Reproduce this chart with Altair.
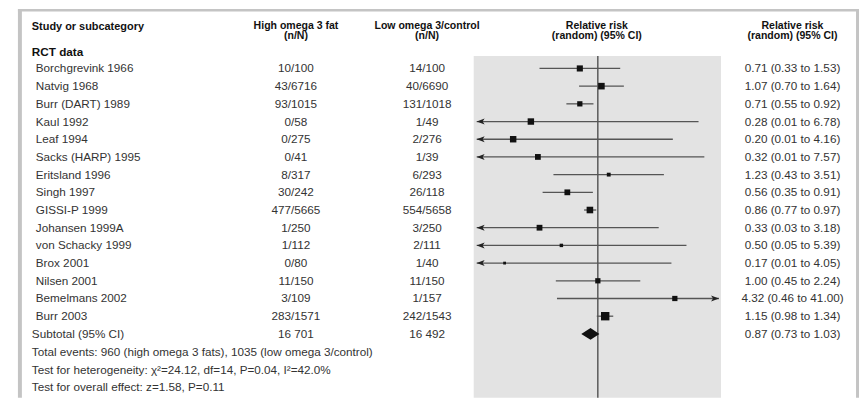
import altair as alt
import pandas as pd

# ---------------- data ----------------
studies = [
    "Borchgrevink 1966", "Natvig 1968", "Burr (DART) 1989", "Kaul 1992",
    "Leaf 1994", "Sacks (HARP) 1995", "Eritsland 1996", "Singh 1997",
    "GISSI-P 1999", "Johansen 1999A", "von Schacky 1999", "Brox 2001",
    "Nilsen 2001", "Bemelmans 2002", "Burr 2003",
]
high_events = ["10/100", "43/6716", "93/1015", "0/58", "0/275", "0/41", "8/317",
               "30/242", "477/5665", "1/250", "1/112", "0/80", "11/150", "3/109",
               "283/1571"]
low_events = ["14/100", "40/6690", "131/1018", "1/49", "2/276", "1/39", "6/293",
              "26/118", "554/5658", "3/250", "2/111", "1/40", "11/150", "1/157",
              "242/1543"]
rr = [0.71, 1.07, 0.71, 0.28, 0.20, 0.32, 1.23, 0.56, 0.86, 0.33, 0.50, 0.17,
      1.00, 4.32, 1.15]
rr_low = [0.33, 0.70, 0.55, 0.01, 0.01, 0.01, 0.43, 0.35, 0.77, 0.03, 0.05, 0.01,
          0.45, 0.46, 0.98]
rr_high = [1.53, 1.64, 0.92, 6.78, 4.16, 7.57, 3.51, 0.91, 0.97, 3.18, 5.39, 4.05,
           2.24, 41.00, 1.34]
# relative box weight (box area) as drawn
box_weight = [38, 44, 28, 42, 42, 34, 15, 34, 44, 34, 12, 8, 28, 28, 72]

subtotal_label = "Subtotal (95% CI)"
subtotal_high = "16 701"
subtotal_low = "16 492"
subtotal_rr, subtotal_lo, subtotal_hi = 0.87, 0.73, 1.03

header_study = "Study or subcategory"
header_high = ["High omega 3 fat", "(n/N)"]
header_low = ["Low omega 3/control", "(n/N)"]
header_rr = ["Relative risk", "(random) (95% CI)"]
group_label = "RCT data"
footer_lines = [
    "Total events: 960 (high omega 3 fats), 1035 (low omega 3/control)",
    "Test for heterogeneity: \u03c7\u00b2=24.12, df=14, P=0.04, I\u00b2=42.0%",
    "Test for overall effect: z=1.58, P=0.11",
]

# ---------------- layout ----------------
W, H = 857, 391
ROW0, ROW_H = 59.5, 17.82
AXIS_MIN, AXIS_MAX = 0.1, 10
FONT = "Liberation Sans, Arial, Helvetica, sans-serif"
BODY_SIZE, HEAD_SIZE = 11.8, 10.6
TEXT_COLOR = "#333333"
HEAD_COLOR = "#111111"
X_NAME, X_LABEL, X_HIGH, X_LOW, X_PLOT, X_RIGHT = 28, 24, 290, 422, 593, 790
HEAD_ROWS = [-2.40, -1.81]
GROUP_ROW = -0.93
FOOT_ROWS = [16.05, 17.05, 18.02]

yscale = alt.Scale(domain=[-ROW0 / ROW_H, (H - ROW0) / ROW_H], reverse=True,
                   nice=False, zero=False)
xscale = alt.Scale(type="log", domain=[AXIS_MIN, AXIS_MAX], range=[472, 716],
                   nice=False)


def Y(field="row"):
    return alt.Y(f"{field}:Q", scale=yscale, axis=None)


n = len(studies)
df = pd.DataFrame({
    "row": list(range(n)), "study": studies, "high": high_events,
    "low": low_events, "rr": rr, "lo": rr_low, "hi": rr_high, "w": box_weight,
})
df["lo_c"] = df["lo"].clip(lower=AXIS_MIN)
df["hi_c"] = df["hi"].clip(upper=AXIS_MAX)
df["ci_text"] = [f"{a:.2f} ({b:.2f} to {c:.2f})" for a, b, c in zip(rr, rr_low, rr_high)]

sub_row = n
dummy = pd.DataFrame({"a": [0]})

layers = []

# grey plot panel
layers.append(alt.Chart(dummy).mark_rect(color="#e3e3e3").encode(
    x=alt.value(469), x2=alt.value(718), y=alt.value(47), y2=alt.value(H)))

# line of no effect
layers.append(alt.Chart(pd.DataFrame({"x": [1.0]})).mark_rule(
    color="#444444", strokeWidth=1.3).encode(
    x=alt.X("x:Q", scale=xscale, axis=None), y=alt.value(47), y2=alt.value(H)))

# confidence intervals
layers.append(alt.Chart(df).mark_rule(color="#555555", strokeWidth=1.3).encode(
    x=alt.X("lo_c:Q", scale=xscale, axis=None), x2="hi_c:Q", y=Y()))

# arrows for truncated intervals
left_df = df[df["lo"] < AXIS_MIN]
right_df = df[df["hi"] > AXIS_MAX]
layers.append(alt.Chart(left_df).mark_point(
    shape="M0,0L2,-0.75L1.5,0L2,0.75Z", filled=True, size=64, opacity=1,
    color="#222222").encode(x=alt.X("lo_c:Q", scale=xscale, axis=None), y=Y()))
layers.append(alt.Chart(right_df).mark_point(
    shape="M0,0L-2,-0.75L-1.5,0L-2,0.75Z", filled=True, size=64, opacity=1,
    color="#222222").encode(x=alt.X("hi_c:Q", scale=xscale, axis=None), y=Y()))

# study boxes
layers.append(alt.Chart(df).mark_point(shape="square", filled=True, opacity=1,
                                       color="#111111").encode(
    x=alt.X("rr:Q", scale=xscale, axis=None), y=Y(),
    size=alt.Size("w:Q", scale=None, legend=None)))

# pooled diamond
half = 0.337
dia = pd.DataFrame({
    "x": [subtotal_lo, subtotal_rr, subtotal_hi],
    "row": [sub_row, sub_row - half, sub_row],
    "row2": [sub_row, sub_row + half, sub_row],
})
layers.append(alt.Chart(dia).mark_area(orient="vertical", color="#111111",
                                       opacity=1).encode(
    x=alt.X("x:Q", scale=xscale, axis=None), y=Y(), y2="row2:Q"))


def text_layer(data, field, x, align="left", bold=False, size=None, color=None):
    return alt.Chart(data).mark_text(
        align=align, baseline="middle", font=FONT,
        fontSize=size or (HEAD_SIZE if bold else BODY_SIZE),
        fontWeight="bold" if bold else "normal",
        color=color or (HEAD_COLOR if bold else TEXT_COLOR),
    ).encode(x=alt.value(x), y=Y(), text=f"{field}:N")


# study rows
layers.append(text_layer(df, "study", X_NAME, "left"))
layers.append(text_layer(df, "high", X_HIGH, "center"))
layers.append(text_layer(df, "low", X_LOW, "center"))
layers.append(text_layer(df, "ci_text", X_RIGHT, "center"))

# headers
layers.append(text_layer(pd.DataFrame({"row": [-2.33], "t": [header_study]}),
                         "t", X_LABEL, "left", bold=True, size=11))
for lines, xpos in [(header_high, X_HIGH), (header_low, X_LOW),
                    (header_rr, X_PLOT), (header_rr, X_RIGHT)]:
    layers.append(text_layer(pd.DataFrame({"row": HEAD_ROWS, "t": lines}),
                             "t", xpos, "center", bold=True))
layers.append(text_layer(pd.DataFrame({"row": [GROUP_ROW], "t": [group_label]}),
                         "t", X_LABEL, "left", bold=True, size=11.8))

# subtotal row
sub_df = pd.DataFrame({
    "row": [sub_row], "label": [subtotal_label], "high": [subtotal_high],
    "low": [subtotal_low],
    "ci": [f"{subtotal_rr:.2f} ({subtotal_lo:.2f} to {subtotal_hi:.2f})"],
})
layers.append(text_layer(sub_df, "label", X_LABEL, "left"))
layers.append(text_layer(sub_df, "high", X_HIGH, "center"))
layers.append(text_layer(sub_df, "low", X_LOW, "center"))
layers.append(text_layer(sub_df, "ci", X_RIGHT, "center"))

# footer
layers.append(text_layer(pd.DataFrame({"row": FOOT_ROWS, "t": footer_lines}),
                         "t", X_LABEL, "left"))

# outer frame
FRAME = "#c4c4c4"
layers.append(alt.Chart(dummy).mark_rule(color=FRAME, strokeWidth=4).encode(
    x=alt.value(12), y=alt.value(0), y2=alt.value(H)))
layers.append(alt.Chart(dummy).mark_rule(color=FRAME, strokeWidth=2.5).encode(
    x=alt.value(10), x2=alt.value(857), y=alt.value(0.8)))
layers.append(alt.Chart(dummy).mark_rule(color=FRAME, strokeWidth=3).encode(
    x=alt.value(855.5), y=alt.value(0), y2=alt.value(H)))

chart = alt.layer(*layers).properties(
    width=W, height=H, padding=0, autosize="none"
).configure(background="white").configure_view(strokeWidth=0)

chart.save("out.html", embed_options={"renderer": "svg", "actions": False})
